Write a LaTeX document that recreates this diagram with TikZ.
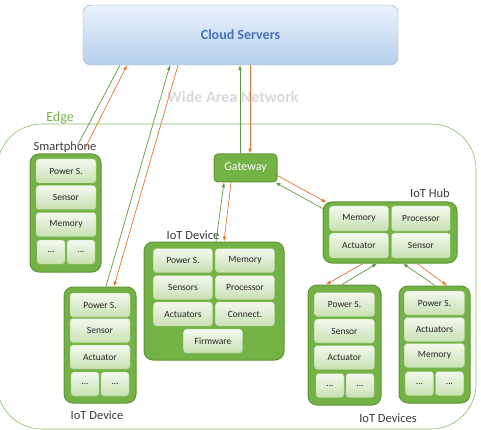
\documentclass[tikz,border=0pt]{standalone}
\usepackage{fontspec}
\setmainfont{Carlito}
\usetikzlibrary{positioning}

\definecolor{cloudtop}{HTML}{EAF2FB}
\definecolor{cloudbot}{HTML}{B5D0EC}
\definecolor{cloudrand}{HTML}{8EA8CE}
\definecolor{cloudtext}{HTML}{4A72B8}
\definecolor{boxgruen}{HTML}{74B246}
\definecolor{boxrand}{HTML}{5C9636}
\definecolor{zelleoben}{HTML}{F3F9EE}
\definecolor{zelleunten}{HTML}{C8E1B2}
\definecolor{zellrand}{HTML}{A3CD86}
\definecolor{liniegruen}{HTML}{5E9A42}
\definecolor{linieorange}{HTML}{E4742C}
\definecolor{edgegruen}{HTML}{86BD62}
\definecolor{beschriftung}{HTML}{3B3B3B}

\tikzset{
    cloudbox/.style={draw=cloudrand, rounded corners=8pt, top color=cloudtop, bottom color=cloudbot, minimum width=315pt, minimum height=60pt, text=cloudtext, font=\bfseries\fontsize{14}{16}\selectfont},
    geraet/.style={draw=boxrand, line width=1pt, fill=boxgruen, rounded corners=9pt},
    zelle/.style={draw=zellrand, rounded corners=3pt, top color=zelleoben, bottom color=zelleunten, minimum width=60pt, minimum height=24pt, inner sep=0pt, text=black!85, font=\fontsize{9.5}{11}\selectfont},
    halb/.style={zelle, minimum width=28pt},
    titel/.style={text=beschriftung, font=\fontsize{12.5}{14}\selectfont},
    hoch/.style={draw=liniegruen, line width=0.7pt, -latex},
    runter/.style={draw=linieorange, line width=0.7pt, -latex},
}

\begin{document}
\begin{tikzpicture}[x=1pt, y=-1pt]
        \useasboundingbox (0,0) rectangle (481,430);

        %Cloud und Edge
        \node[cloudbox] (cloud) at (240.5,35) {Cloud Servers};
        \node[text=black!15, font=\bfseries\fontsize{16}{18}\selectfont] (wan) at (233,97) {Wide Area Network};
        \draw[edgegruen, line width=0.6pt, rounded corners=45pt] (-3,124) rectangle (476,429);   %Edge-Bereich
        \node[text=boxgruen, font=\fontsize{14}{16}\selectfont] (edge) at (60,118) {Edge};

        %Smartphone
        \node[geraet, minimum width=71pt, minimum height=118pt] (sp) at (65.5,213) {};
        \node[titel] (sptitel) at (65,147) {Smartphone};
        \node[zelle] (sp1) at (66,171) {Power S.};
        \node[zelle] (sp2) at (66,197.5) {Sensor};
        \node[zelle] (sp3) at (66,224.5) {Memory};
        \node[halb] (sp4) at (51,252) {...};
        \node[halb] (sp5) at (81,252) {...};

        %IoT Device links
        \node[geraet, minimum width=72pt, minimum height=116pt] (dl) at (100,345) {};
        \node[titel] (dltitel) at (97,415) {IoT Device};
        \node[zelle] (dl1) at (100,305) {Power S.};
        \node[zelle] (dl2) at (100,330.5) {Sensor};
        \node[zelle] (dl3) at (100,357) {Actuator};
        \node[halb] (dl4) at (85,384) {...};
        \node[halb] (dl5) at (115,384) {...};

        %Gateway
        \node[geraet, rounded corners=4pt, minimum width=63pt, minimum height=28pt, text=white, font=\fontsize{12}{14}\selectfont] (gw) at (245.5,168) {Gateway};

        %IoT Device Mitte
        \node[geraet, minimum width=140pt, minimum height=118pt] (dm) at (214,301) {};
        \node[titel] (dmtitel) at (193,235) {IoT Device};
        \node[zelle, minimum width=59pt] (dm1) at (183,260.5) {Power S.};
        \node[zelle, minimum width=59pt] (dm2) at (245,260.5) {Memory};
        \node[zelle, minimum width=59pt] (dm3) at (183,287.5) {Sensors};
        \node[zelle, minimum width=59pt] (dm4) at (245,287.5) {Processor};
        \node[zelle, minimum width=59pt] (dm5) at (183,314) {Actuators};
        \node[zelle, minimum width=59pt] (dm6) at (245,314) {Connect.};
        \node[zelle, minimum width=59pt] (dm7) at (213,341) {Firmware};

        %IoT Hub
        \node[geraet, minimum width=134pt, minimum height=61pt] (hub) at (390,232.5) {};
        \node[titel] (hubtitel) at (430,193) {IoT Hub};
        \node[zelle, minimum width=59pt, minimum height=25pt] (hub1) at (359,218.5) {Memory};
        \node[zelle, minimum width=59pt, minimum height=25pt] (hub2) at (421,218.5) {Processor};
        \node[zelle, minimum width=59pt, minimum height=25pt] (hub3) at (359,245.5) {Actuator};
        \node[zelle, minimum width=59pt, minimum height=25pt] (hub4) at (421,245.5) {Sensor};

        %IoT Devices rechts
        \node[geraet, minimum width=73pt, minimum height=120pt] (da) at (344.5,345) {};
        \node[zelle] (da1) at (344.5,304.5) {Power S.};
        \node[zelle] (da2) at (344.5,331) {Sensor};
        \node[zelle] (da3) at (344.5,357.5) {Actuator};
        \node[halb] (da4) at (330,385.5) {...};
        \node[halb] (da5) at (360,385.5) {...};

        \node[geraet, minimum width=71pt, minimum height=117pt] (db) at (434.5,344.5) {};
        \node[zelle] (db1) at (434.5,303) {Power S.};
        \node[zelle] (db2) at (434.5,329.5) {Actuators};
        \node[zelle] (db3) at (434.5,355.5) {Memory};
        \node[halb] (db4) at (419.5,383.5) {...};
        \node[halb] (db5) at (449.5,383.5) {...};
        \node[titel] (datitel) at (388,418) {IoT Devices};

        %Pfeile
        \draw[liniegruen, line width=0.7pt] ([xshift=-120.5pt]cloud.south) -- ([xshift=12pt,yshift=8pt]sp.north);
        \draw[runter] ([xshift=19pt,yshift=4pt]sp.north) -- ([xshift=-113.5pt]cloud.south);

        \draw[hoch] ([xshift=6pt]dl.north) -- ([xshift=-70.5pt]cloud.south);
        \draw[runter] ([xshift=-62.5pt]cloud.south) -- ([xshift=14pt]dl.north);

        \draw[hoch] ([xshift=-5.5pt]gw.north) -- ([xshift=-0.5pt]cloud.south);
        \draw[runter] ([xshift=9.5pt]cloud.south) -- ([xshift=4.5pt]gw.north);

        \draw[hoch] ([xshift=2pt]dm.north) -- ([xshift=-21.5pt]gw.south);
        \draw[runter] ([xshift=-14.5pt]gw.south) -- ([xshift=10pt]dm.north);

        \draw[runter] ([yshift=7pt]gw.south east) -- ([xshift=4pt,yshift=-1pt]hub.north west);
        \draw[hoch] ([yshift=-7pt]hub.north west) -- ([xshift=-2pt]gw.south east);

        \draw[runter] ([xshift=-27pt]hub.south) -- ([xshift=-18.5pt]da.north);
        \draw[hoch] ([xshift=-2.5pt]da.north) -- ([xshift=-13pt]hub.south);

        \draw[hoch] ([xshift=0.5pt]db.north) -- ([xshift=13pt]hub.south);
        \draw[runter] ([xshift=27pt]hub.south) -- ([xshift=12.5pt]db.north);
    \end{tikzpicture}
\end{document}
